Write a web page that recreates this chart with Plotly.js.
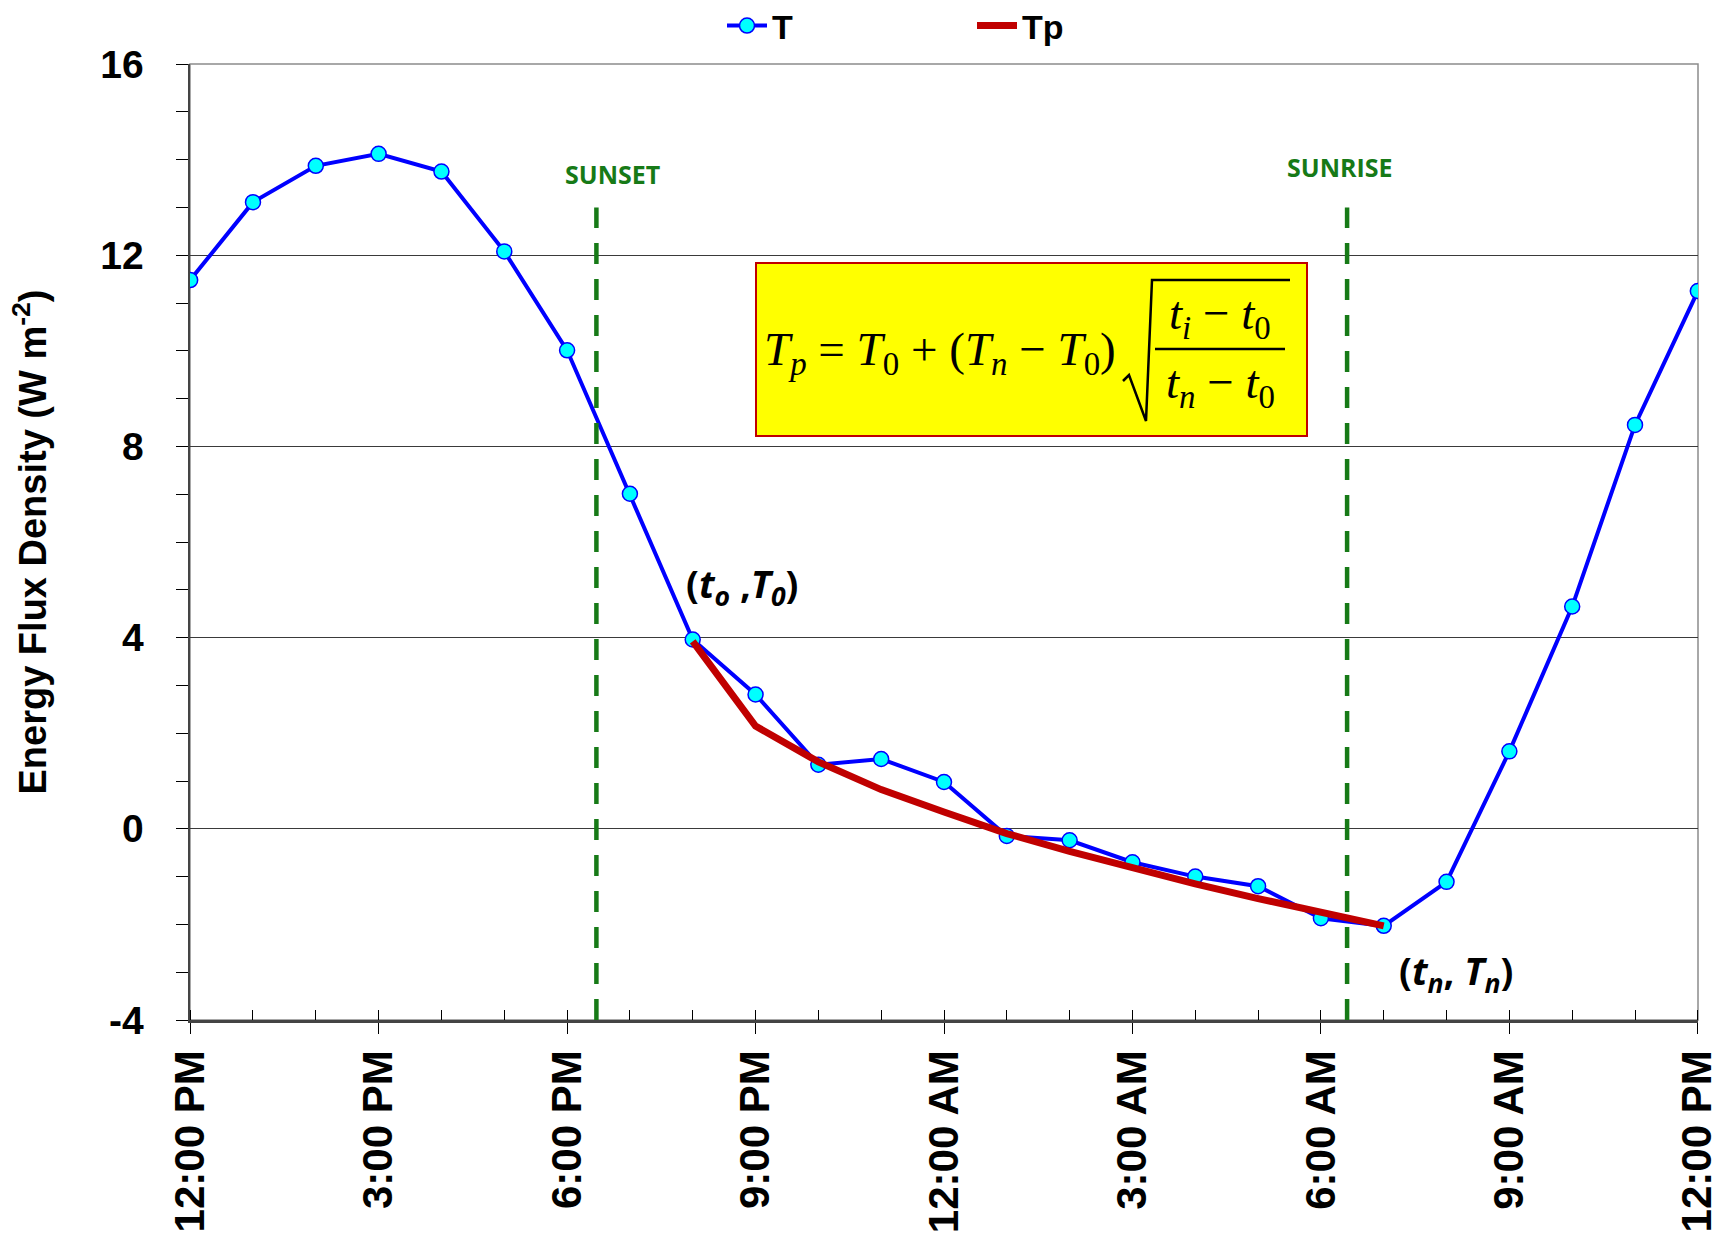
<!DOCTYPE html>
<html>
<head>
<meta charset="utf-8">
<script src="https://cdn.plot.ly/plotly-3.0.1.min.js"></script>
<style>
  html, body { margin: 0; padding: 0; background: #ffffff; }
  #chart { width: 1719px; height: 1233px; }
</style>
</head>
<body>
<div id="chart"></div>
<script>
// ---- Data ----
const times = [
  '2014-06-01 12:00', '2014-06-01 13:00', '2014-06-01 14:00', '2014-06-01 15:00',
  '2014-06-01 16:00', '2014-06-01 17:00', '2014-06-01 18:00', '2014-06-01 19:00',
  '2014-06-01 20:00', '2014-06-01 21:00', '2014-06-01 22:00', '2014-06-01 23:00',
  '2014-06-02 00:00', '2014-06-02 01:00', '2014-06-02 02:00', '2014-06-02 03:00',
  '2014-06-02 04:00', '2014-06-02 05:00', '2014-06-02 06:00', '2014-06-02 07:00',
  '2014-06-02 08:00', '2014-06-02 09:00', '2014-06-02 10:00', '2014-06-02 11:00',
  '2014-06-02 12:00'
];
const T = [11.48, 13.11, 13.87, 14.12, 13.75, 12.08, 10.01, 7.01,
           3.96, 2.81, 1.34, 1.46, 0.98, -0.15, -0.24, -0.70,
           -1.00, -1.20, -1.87, -2.03, -1.11, 1.62, 4.65, 8.45, 11.25];

const tpTimes = [
  '2014-06-01 20:00', '2014-06-01 21:00', '2014-06-01 22:00', '2014-06-01 23:00',
  '2014-06-02 00:00', '2014-06-02 01:00', '2014-06-02 02:00', '2014-06-02 03:00',
  '2014-06-02 04:00', '2014-06-02 05:00', '2014-06-02 06:00', '2014-06-02 07:00'
];
const Tp = [3.92, 2.15, 1.40, 0.82, 0.35, -0.10, -0.47, -0.82, -1.15, -1.46, -1.75, -2.03];

const tickTimes = ['2014-06-01 12:00', '2014-06-01 15:00', '2014-06-01 18:00', '2014-06-01 21:00',
                   '2014-06-02 00:00', '2014-06-02 03:00', '2014-06-02 06:00', '2014-06-02 09:00',
                   '2014-06-02 12:00'];
const tickLabels = ['12:00 PM', '3:00 PM', '6:00 PM', '9:00 PM', '12:00 AM',
                    '3:00 AM', '6:00 AM', '9:00 AM', '12:00 PM'];

const yTicks = [-4, 0, 4, 8, 12, 16];
const yTickLabels = ['-4', '0', '4', '8', '12', '16'];

const sunsetTime = '2014-06-01 18:28';
const sunriseTime = '2014-06-02 06:25';
const markerTop = 13;

// ---- Layout helpers (pixel -> paper) ----
const ML = 190, MR = 21, MT = 64, MB = 213;
const W = 1719, H = 1233;
const PW = W - ML - MR, PH = H - MT - MB;
const PX = p => (p - ML) / PW;
const PY = p => (H - MB - p) / PH;

const SANS = 'Liberation Sans, Arial, sans-serif';
const SERIF = 'Liberation Serif, Times New Roman, serif';
const CAL = 'Open Sans, Noto Sans, sans-serif';
const GREEN = '#177a17';

const traces = [
  {
    x: times, y: T, name: 'T', type: 'scatter', mode: 'lines+markers',
    line: { color: '#0000ff', width: 4 },
    marker: { color: '#00ffff', size: 15, line: { color: '#0000ff', width: 1.5 } }
  },
  {
    x: tpTimes, y: Tp, name: 'Tp', type: 'scatter', mode: 'lines',
    line: { color: '#c00000', width: 7 }
  }
];

const shapes = [
  // plot frame (top/right)
  { type: 'rect', xref: 'paper', yref: 'paper', x0: 0, x1: 1, y0: 0, y1: 1,
    line: { color: '#8c8c8c', width: 1.5 }, layer: 'below' },
  // sunset / sunrise dashed lines
  { type: 'line', xref: 'x', yref: 'y', x0: sunsetTime, x1: sunsetTime, y0: -4, y1: markerTop,
    line: { color: GREEN, width: 4.5, dash: '21px,15px' } },
  { type: 'line', xref: 'x', yref: 'y', x0: sunriseTime, x1: sunriseTime, y0: -4, y1: markerTop,
    line: { color: GREEN, width: 4.5, dash: '21px,15px' } },
  // formula box
  { type: 'rect', xref: 'paper', yref: 'paper', x0: PX(756), x1: PX(1307), y0: PY(436), y1: PY(263),
    fillcolor: '#ffff00', line: { color: '#c00000', width: 2 }, layer: 'above' },
  // radical sign
  { type: 'path', xref: 'paper', yref: 'paper',
    path: `M ${PX(1123)} ${PY(381)} L ${PX(1129)} ${PY(375)} L ${PX(1146)} ${PY(421)} L ${PX(1152)} ${PY(280)} L ${PX(1290)} ${PY(280)}`,
    line: { color: '#000000', width: 2.5 }, layer: 'above' },
  // fraction bar
  { type: 'line', xref: 'paper', yref: 'paper', x0: PX(1155), x1: PX(1285), y0: PY(349), y1: PY(349),
    line: { color: '#000000', width: 2.5 }, layer: 'above' }
];

const fFont = { family: SERIF, size: 47, color: '#000000' };
const annotations = [
  { xref: 'x', yref: 'y', x: '2014-06-01 18:43', y: 13.7, text: 'SUNSET', showarrow: false,
    font: { family: CAL, size: 25, color: GREEN, weight: 700 } },
  { xref: 'x', yref: 'y', x: '2014-06-02 06:18', y: 13.85, text: 'SUNRISE', showarrow: false,
    font: { family: CAL, size: 25, color: GREEN, weight: 700 } },
  { xref: 'x', yref: 'y', x: '2014-06-01 20:47', y: 5.1,
    text: '(<i>t</i><sub><i>o</i></sub> ,<i>T</i><sub><i>0</i></sub>)', showarrow: false,
    font: { family: CAL, size: 38, color: '#000000', weight: 700 } },
  { xref: 'x', yref: 'y', x: '2014-06-02 08:09', y: -3.0,
    text: '(<i>t</i><sub><i>n</i></sub>, <i>T</i><sub><i>n</i></sub>)', showarrow: false,
    font: { family: CAL, size: 38, color: '#000000', weight: 700 } },
  // formula pieces
  { xref: 'paper', yref: 'paper', x: PX(762), y: PY(352), xanchor: 'left', yanchor: 'middle',
    text: '<i>T</i><sub><i>p</i></sub> = <i>T</i><sub>0</sub> + (<i>T</i><sub><i>n</i></sub> − <i>T</i><sub>0</sub>)',
    showarrow: false, font: fFont },
  { xref: 'paper', yref: 'paper', x: PX(1220), y: PY(316), xanchor: 'center', yanchor: 'middle',
    text: '<i>t</i><sub><i>i</i></sub> − <i>t</i><sub>0</sub>', showarrow: false, font: fFont },
  { xref: 'paper', yref: 'paper', x: PX(1220), y: PY(386), xanchor: 'center', yanchor: 'middle',
    text: '<i>t</i><sub><i>n</i></sub> − <i>t</i><sub>0</sub>', showarrow: false, font: fFont }
];

const layout = {
  width: W, height: H,
  margin: { l: ML, r: MR, t: MT, b: MB, pad: 0, autoexpand: false },
  paper_bgcolor: '#ffffff', plot_bgcolor: '#ffffff',
  font: { family: SANS, color: '#000000' },
  showlegend: true,
  legend: {
    orientation: 'h', x: PX(722), xanchor: 'left', y: PY(26), yanchor: 'middle',
    entrywidth: 195, entrywidthmode: 'pixels', itemwidth: 40,
    font: { family: SANS, size: 34, weight: 'bold', color: '#000000' },
    bgcolor: 'rgba(0,0,0,0)'
  },
  xaxis: {
    type: 'date',
    range: ['2014-06-01 11:59:50', '2014-06-02 12:00:10'],
    tickmode: 'array', tickvals: tickTimes, ticktext: tickLabels,
    tickangle: -90,
    tickfont: { family: SANS, size: 42, weight: 'bold', color: '#000000' },
    ticks: 'outside', ticklen: 11, tickwidth: 1, tickcolor: '#000000',
    minor: { dtick: 3600000, ticks: 'inside', ticklen: 10, tickwidth: 1, tickcolor: '#000000', showgrid: false },
    showgrid: false, zeroline: false,
    showline: true, linecolor: '#444444', linewidth: 2.5,
    ticklabelstandoff: 0,
    ticklabeloverflow: 'allow',
    automargin: false,
    fixedrange: true
  },
  yaxis: {
    range: [-4, 16],
    tickmode: 'array', tickvals: yTicks, ticktext: yTickLabels,
    tickfont: { family: SANS, size: 39, weight: 'bold', color: '#000000' },
    ticks: 'outside', ticklen: 12, tickwidth: 1, tickcolor: '#000000',
    minor: { dtick: 1, ticks: 'outside', ticklen: 12, tickwidth: 1, tickcolor: '#000000', showgrid: false },
    showgrid: true, gridcolor: '#3a3a3a', gridwidth: 1,
    zeroline: true, zerolinecolor: '#3a3a3a', zerolinewidth: 1,
    showline: true, linecolor: '#444444', linewidth: 2.5,
    ticklabelstandoff: 24,
    title: { text: 'Energy Flux Density (W m<sup>-2</sup>)',
             font: { family: SANS, size: 38, weight: 'bold', color: '#000000' }, standoff: 42 },
    automargin: false,
    fixedrange: true
  },
  shapes: shapes,
  annotations: annotations
};

Plotly.newPlot('chart', traces, layout, { displayModeBar: false, staticPlot: true });
</script>
</body>
</html>
